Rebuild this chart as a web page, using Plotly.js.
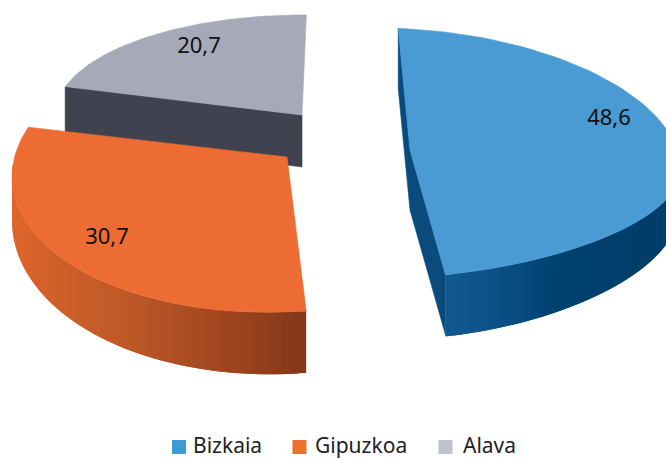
<!DOCTYPE html>
<html><head><meta charset="utf-8">
<script src="https://cdn.plot.ly/plotly-3.0.1.min.js"></script>
<style>html,body{margin:0;padding:0;background:#fff}#c{width:666px;height:459px}</style>
</head><body><div id="c"></div>
<script>
const categories = ['Bizkaia', 'Gipuzkoa', 'Alava'];
const values = [48.6, 30.7, 20.7];

const faceColors = ['#4a9ad4', '#ec6c33', '#a6a9b8'];
const legendColors = ['#3f9bd5', '#ef7130', '#c0c2d0'];
const FONT = '"Noto Sans", sans-serif';

// Perspective of each exploded wedge: the rim is a projected circle.
const views = [
  {apex:[410,150], cx:410, a:270, cy:153, b:124, k:16,  m:-13, start:-92.5, scale:1,    depth:62, tBase:.6,
   stops:[[0,'#004474'],[.35,'#003e69'],[.7,'#004070'],[.9,'#0b5288'],[1,'#11598f']], wall:'#0a4a7c', wallDepth:60},
  {apex:[287,157], cx:287, a:275, cy:167, b:145, k:-10, m:0,   start:86,    scale:1.03, depth:62, tBase:.7,
   stops:[[0,'#843818'],[.15,'#a04620'],[.4,'#c05a28'],[.75,'#dc642c'],[1,'#e0662c']]},
  {apex:[302,115], cx:302, a:247, cy:115, b:100, k:0,   m:0,   start:196.5, scale:1,    depth:48, tBase:1, wall:'#40424f', wallDepth:48}
];
const labelAt = [[609,119],[107,238],[199,47]];
const legendAt = [[179,447,190.5],[299.5,447,313],[445.5,447,461]];

const rad = d => d*Math.PI/180;
function rim(v, deg){
  const t = rad(deg), s = Math.sin(t), c = Math.cos(t);
  return [v.cx + v.a*c, v.cy + v.b*s + v.k*c + (s>0 ? v.m*Math.sin(2*t) : 0)];
}
function depthAt(v, deg){ return v.depth*(v.tBase + (1-v.tBase)*Math.sin(rad(deg))); }
function hex(c){ return [1,3,5].map(i=>parseInt(c.substr(i,2),16)); }
function mix(stops, t){
  for(let i=1;i<stops.length;i++){
    if(t<=stops[i][0]){
      const f=(t-stops[i-1][0])/(stops[i][0]-stops[i-1][0]);
      const A=hex(stops[i-1][1]),B=hex(stops[i][1]);
      return 'rgb('+A.map((x,j)=>Math.round(x+(B[j]-x)*f)).join(',')+')';
    }
  }
  return stops[stops.length-1][1];
}
function poly(pts,color,name,lineW){
  const xs=pts.map(p=>p[0]),ys=pts.map(p=>p[1]);
  xs.push(xs[0]);ys.push(ys[0]);
  return {type:'scatter',mode:'lines',x:xs,y:ys,fill:'toself',fillcolor:color,
    line:{color:color,width:lineW===undefined?.6:lineW},hoverinfo:name?'name':'skip',name:name||'',showlegend:false};
}

const traces=[];
// painter's order: Alava, Gipuzkoa, Bizkaia
[2,1,0].forEach(i=>{
  const v=views[i], sweep=values[i]*3.6*v.scale, end=v.start+sweep;
  if(v.wall){
    const d=v.wallDepth, A=rim(v,v.start), mid=v.apex;
    let pts;
    if(i===0){
      const B=rim(v,end);
      pts=[A,[A[0],A[1]+d],[mid[0],mid[1]+d],[B[0],B[1]+d],B,mid];
    } else {
      pts=[A,[A[0],A[1]+d],[mid[0],mid[1]+d+4],mid];
    }
    traces.push(poly(pts,v.wall));
  }
  if(v.stops){
    const N=60;
    // Visible outer side wall: the part of the rim on the viewer's side.
    const a0 = i===0 ? end : v.start;
    const a1 = i===0 ? 0 : 186;
    // painted so that each strip overlaps the next one and no seams show
    for(let n=N-1;n>=0;n--){
      const d0=a0+(a1-a0)*n/N, d1=a0+(a1-a0)*Math.min(n+2,N)/N;
      const steps=[0,.25,.5,.75,1].map(f=>d0+(d1-d0)*f);
      const upper=steps.map(d=>rim(v,d));
      const lower=steps.slice().reverse().map(d=>{const p=rim(v,d);return [p[0],p[1]+depthAt(v,d)];});
      const col=mix(v.stops,i===0 ? 1-(n+.5)/N : (n+.5)/N);
      traces.push(poly(upper.concat(lower),col,'',0));
    }
  }
  // top face
  const face=[v.apex];
  for(let n=0;n<=80;n++) face.push(rim(v,v.start+sweep*n/80));
  traces.push(poly(face,faceColors[i],categories[i]));
});

// value labels
traces.push({type:'scatter',mode:'text',x:labelAt.map(p=>p[0]),y:labelAt.map(p=>p[1]),
  text:values.map(x=>x.toFixed(1).replace('.',',')),textposition:'middle center',
  textfont:{family:FONT,size:22,color:'#111'},hoverinfo:'skip',showlegend:false});

// legend row
traces.push({type:'scatter',mode:'markers',x:legendAt.map(p=>p[0]),y:legendAt.map(p=>p[1]),
  marker:{symbol:'square',size:14,color:legendColors},hoverinfo:'skip',showlegend:false});
const annotations=categories.map((c,i)=>({xref:'x',yref:'y',x:legendAt[i][2],y:444.5,
  text:c,showarrow:false,xanchor:'left',yanchor:'middle',font:{family:FONT,size:21,color:'#222'}}));

Plotly.newPlot('c',traces,{
  width:666,height:459,margin:{l:0,r:0,t:0,b:0},paper_bgcolor:'#fff',plot_bgcolor:'#fff',
  xaxis:{range:[0,666],visible:false,fixedrange:true},
  yaxis:{range:[459,0],visible:false,fixedrange:true},
  showlegend:false,annotations
},{displayModeBar:false,staticPlot:true});
</script></body></html>
